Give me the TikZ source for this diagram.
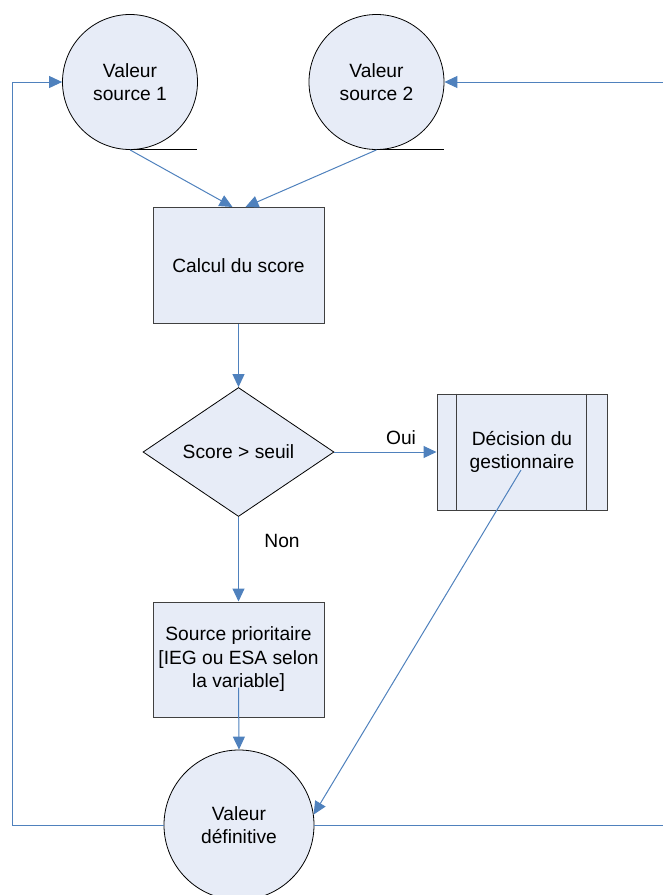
\documentclass[tikz,border=0pt]{standalone}
\usepackage{fontspec}
\setmainfont{Liberation Sans}
\usetikzlibrary{shapes.geometric,arrows.meta,calc}
\definecolor{boxfill}{RGB}{231,236,247}
\definecolor{linkblue}{RGB}{79,129,189}
\definecolor{frame}{RGB}{64,64,64}
\begin{document}
\begin{tikzpicture}[x=1pt,y=-1pt,
  every node/.style={font=\fontsize{19.2}{23.5}\selectfont, align=center, inner sep=0pt},
  datacirc/.style={circle, draw=black, line width=0.8pt, fill=boxfill, minimum size=135},
  procbox/.style={rectangle, draw=frame, line width=1pt, fill=boxfill, minimum width=171, minimum height=116},
  testbox/.style={diamond, draw=black, line width=0.8pt, fill=boxfill, minimum width=191, minimum height=129, aspect=1.48},
  link/.style={draw=linkblue, line width=1pt},
  flow/.style={link, -{Triangle[length=13pt,width=12pt]}}
]
\useasboundingbox (0,0) rectangle (663,895);

% value sources
\node[datacirc] (s1) at (130,82) {Valeur\\source 1};
\node[datacirc] (s2) at (376.5,82) {Valeur\\source 2};
\draw[line width=1pt] (s1.south) -- ++(67,0);
\draw[line width=1pt] (s2.south) -- ++(67.5,0);

% processing steps
\node[procbox] (calc) at (238.5,265.5) {Calcul du score};
\node[testbox] (test) at (238.5,452) {Score > seuil};
\node[procbox, minimum width=170] (dec) at (522,452) {D\'ecision du\\gestionnaire};
\draw[frame, line width=1pt] ($(dec.north west)+(20,0)$) -- ($(dec.south west)+(20,0)$);
\draw[frame, line width=1pt] ($(dec.north east)+(-21,0)$) -- ($(dec.south east)+(-21,0)$);
\node[procbox, minimum height=115] (prio) at (238.5,659.5) {Source prioritaire\\{}[IEG ou ESA selon\\la variable]};
\node[datacirc, minimum size=150] (vd) at (239,825) {Valeur\\d\'efinitive};

% branch labels
\node (oui) at (401,438) {Oui};
\node (non) at (282,541) {Non};

% loop anchors at the picture edges
\coordinate (lx) at (12,0);
\coordinate (rx) at (663,0);

% connectors
\draw[flow] (s1.south) -- ($(calc.north)+(-6,0)$);
\draw[flow] (s2.south) -- ($(calc.north)+(7,0)$);
\draw[flow] (calc.south) -- (test.north);
\draw[flow] (test.east) -- (dec.west);
\draw[flow] (test.south) -- (prio.north);
\draw[flow] ($(prio.center)+(0,28)$) -- (vd.north);
\draw[flow] ($(dec.center)+(-1,18)$) -- (vd.8);
\draw[flow] (vd.west) -- (vd.west -| lx) -- (s1.west -| lx) -- (s1.west);
\draw[link] (vd.east) -- (vd.east -| rx);
\draw[flow] (s2.east -| rx) -- (s2.east);
\end{tikzpicture}
\end{document}
